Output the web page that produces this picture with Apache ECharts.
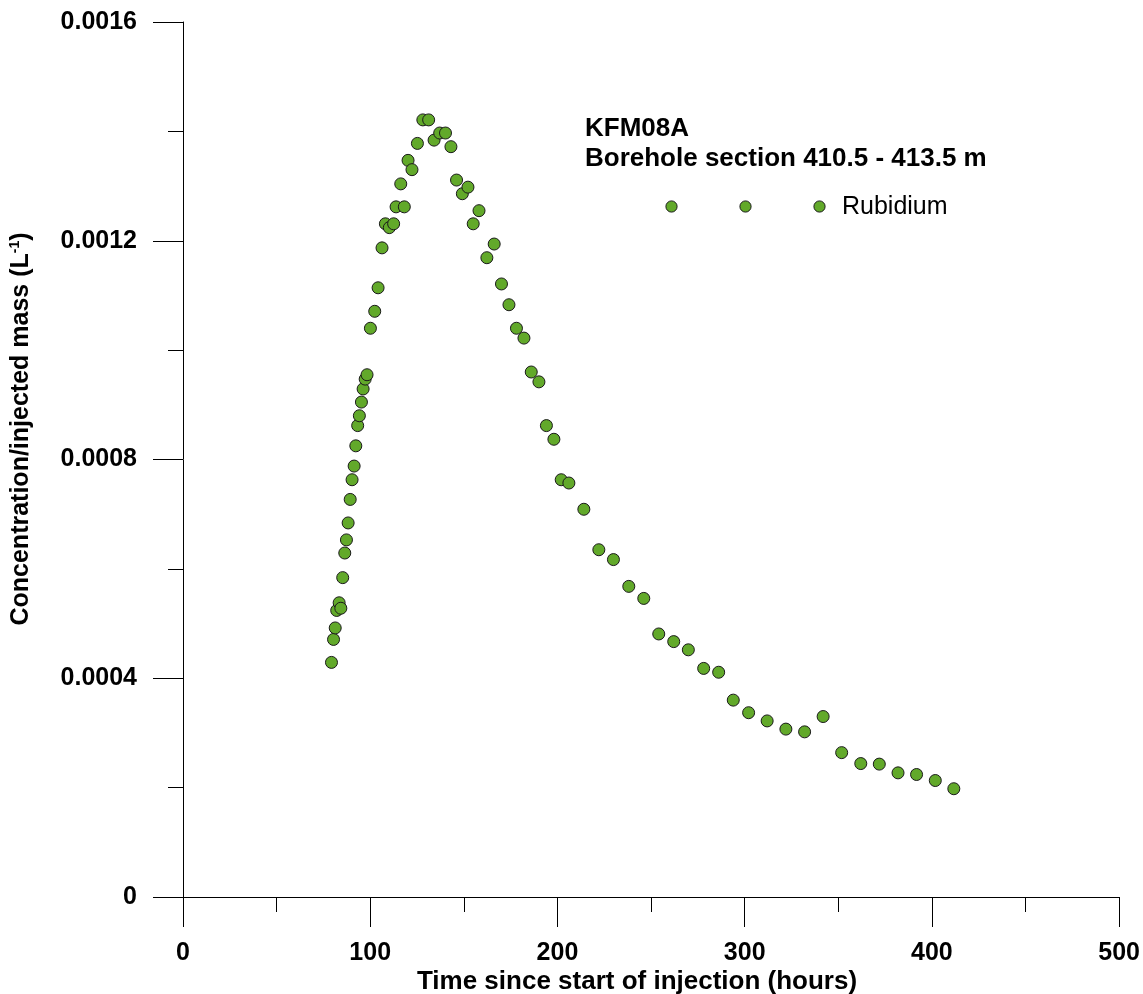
<!DOCTYPE html>
<html>
<head>
<meta charset="utf-8">
<title>KFM08A Rubidium breakthrough</title>
<script src="https://cdn.jsdelivr.net/npm/echarts@6/dist/echarts.min.js"></script>
<style>
  html, body { margin: 0; padding: 0; background: #ffffff; }
  #chart { width: 1143px; height: 994px; }
</style>
</head>
<body>
<div id="chart"></div>
<script>
// Time since start of injection (hours)
const timeHours = [
  79.3, 80.4, 81.3, 82.1, 83.4, 84.3, 85.3, 86.4, 87.3, 88.2,
  89.3, 90.3, 91.4, 92.3, 93.3, 94.2, 95.3, 96.2, 97.3, 98.3,
  100.1, 102.4, 104.2, 106.3, 108.1, 110.2, 112.5, 113.8, 116.3, 118.2,
  120.2, 122.3, 125.2, 128.1, 131.2, 134.1, 137.1, 140.2, 143.1, 146.1,
  149.2, 152.2, 155.0, 158.1, 162.3, 166.2, 170.1, 174.1, 178.1, 182.1,
  186.0, 190.1, 194.1, 198.1, 202.0, 206.1, 214.1, 222.1, 229.9, 238.1,
  246.1, 254.1, 262.1, 269.9, 278.1, 286.1, 293.9, 302.1, 312.0, 322.0,
  332.0, 341.9, 351.8, 362.0, 371.9, 381.9, 391.8, 401.8, 411.7
];

// Rubidium concentration / injected mass (L^-1)
const rubidium = [
  0.000429, 0.000471, 0.000492, 0.000524, 0.000538, 0.000528, 0.000584, 0.000629, 0.000653, 0.000684,
  0.000727, 0.000763, 0.000788, 0.000825, 0.000862, 0.000880, 0.000905, 0.000929, 0.000947, 0.000955,
  0.001040, 0.001071, 0.001114, 0.001187, 0.001231, 0.001224, 0.001231, 0.001262, 0.001304, 0.001262,
  0.001347, 0.001330, 0.001378, 0.001421, 0.001421, 0.001384, 0.001397, 0.001397, 0.001372, 0.001311,
  0.001286, 0.001298, 0.001231, 0.001255, 0.001169, 0.001194, 0.001121, 0.001083, 0.001040, 0.001022,
  0.000960, 0.000942, 0.000862, 0.000837, 0.000763, 0.000757, 0.000709, 0.000635, 0.000617, 0.000568,
  0.000546, 0.000481, 0.000467, 0.000452, 0.000418, 0.000411, 0.000360, 0.000337, 0.000322, 0.000307,
  0.000302, 0.000330, 0.000264, 0.000244, 0.000243, 0.000227, 0.000224, 0.000213, 0.000198
];

const xTicks = { min: 0, max: 500, step: 100 };
const yTicks = { min: 0, max: 0.0016, step: 0.0004 };

const titleLines = ['KFM08A', 'Borehole section 410.5 - 413.5 m'];
const seriesName = 'Rubidium';
const xTitle = 'Time since start of injection (hours)';

const FONT = '"Liberation Sans", Arial, Helvetica, sans-serif';
const GREEN = '#62a92a';
const EDGE = '#1a1a1a';

const points = timeHours.map((t, i) => [t, rubidium[i]]);

const chart = echarts.init(document.getElementById('chart'), null, { renderer: 'canvas' });

const axisCommon = {
  axisLine: { show: true, lineStyle: { color: '#000', width: 1 } },
  axisTick: { show: true, inside: false, length: 30, lineStyle: { color: '#000', width: 1 } },
  minorTick: { show: true, splitNumber: 2, length: 15, lineStyle: { color: '#000', width: 1 } },
  splitLine: { show: false },
  minorSplitLine: { show: false }
};

// Legend line: three sample symbols followed by the series name
const legendY = 206.5;
const legendMarks = [671.5, 745.5, 819.5].map(cx => ({
  type: 'circle',
  shape: { cx: cx, cy: legendY, r: 5.6 },
  style: { fill: GREEN, stroke: EDGE, lineWidth: 1 }
}));

chart.setOption({
  backgroundColor: '#ffffff',
  animation: false,
  grid: { left: 183, right: 22, top: 22, bottom: 97, containLabel: false },
  xAxis: Object.assign({
    type: 'value',
    min: xTicks.min,
    max: xTicks.max,
    interval: xTicks.step,
    axisLabel: {
      margin: 44,
      color: '#000',
      fontFamily: FONT,
      fontWeight: 'bold',
      fontSize: 25
    }
  }, axisCommon),
  yAxis: Object.assign({
    type: 'value',
    min: yTicks.min,
    max: yTicks.max,
    interval: yTicks.step,
    axisLabel: {
      margin: 46,
      color: '#000',
      fontFamily: FONT,
      fontWeight: 'bold',
      fontSize: 25,
      formatter: v => (v === 0 ? '0' : v.toFixed(4))
    }
  }, axisCommon),
  series: [{
    name: seriesName,
    type: 'scatter',
    data: points,
    symbol: 'circle',
    symbolSize: 12,
    itemStyle: { color: GREEN, borderColor: EDGE, borderWidth: 1, opacity: 1 },
    emphasis: { disabled: true }
  }],
  graphic: [
    {
      type: 'text', x: 585, y: 129,
      style: { text: titleLines[0], font: 'bold 26px ' + FONT, fill: '#000', verticalAlign: 'middle' }
    },
    {
      type: 'text', x: 585, y: 159,
      style: { text: titleLines[1], font: 'bold 26px ' + FONT, fill: '#000', verticalAlign: 'middle' }
    },
    ...legendMarks,
    {
      type: 'text', x: 842, y: legendY + 1,
      style: { text: seriesName, font: '25px ' + FONT, fill: '#000', verticalAlign: 'middle' }
    },
    {
      type: 'text', x: 637, y: 982,
      style: {
        text: xTitle, font: 'bold 26px ' + FONT, fill: '#000',
        align: 'center', verticalAlign: 'middle'
      }
    },
    {
      type: 'text', x: 21, y: 429, rotation: Math.PI / 2,
      style: {
        text: 'Concentration/injected mass (L{sup|-1})',
        font: 'bold 25px ' + FONT, fill: '#000',
        align: 'center', verticalAlign: 'middle',
        rich: {
          sup: { font: 'bold 14px ' + FONT, fill: '#000', verticalAlign: 'top', padding: [0, 0, 10, 0] }
        }
      }
    }
  ]
});
</script>
</body>
</html>
